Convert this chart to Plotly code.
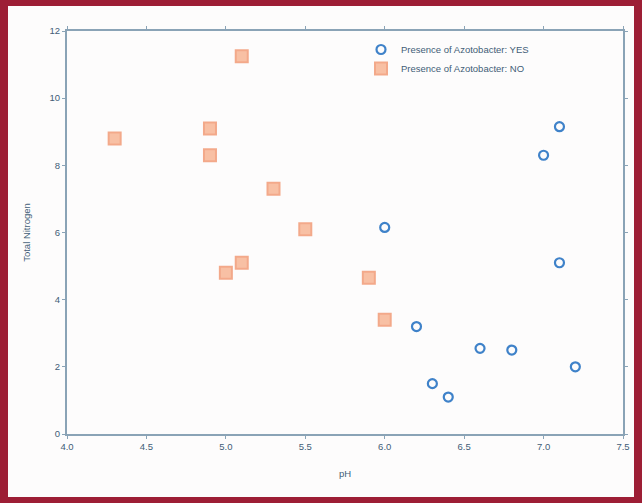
import plotly.graph_objects as go

# Data
yes_ph = [6.0, 6.2, 6.3, 6.4, 6.6, 6.8, 7.0, 7.1, 7.1, 7.2]
yes_n = [6.15, 3.2, 1.5, 1.1, 2.55, 2.5, 8.3, 9.15, 5.1, 2.0]

no_ph = [4.3, 4.9, 4.9, 5.1, 5.0, 5.1, 5.3, 5.5, 5.9, 6.0]
no_n = [8.8, 9.1, 8.3, 11.25, 4.8, 5.1, 7.3, 6.1, 4.65, 3.4]

x_ticks = [4.0, 4.5, 5.0, 5.5, 6.0, 6.5, 7.0, 7.5]
x_tick_text = ["4.0", "4.5", "5.0", "5.5", "6.0", "6.5", "7.0", "7.5"]
y_ticks = [0, 2, 4, 6, 8, 10, 12]

W, H = 642, 503
L, R, T, B = 67, 19, 31, 69
pw, ph = W - L - R, H - T - B

def px_to_paper_x(px):
    return (px - L) / pw

def py_to_paper_y(py):
    return (H - B - py) / ph

axis_color = "#8aa3b6"
text_color = "#425c77"
font_family = "Liberation Sans, Arial, sans-serif"

fig = go.Figure()
fig.add_trace(go.Scatter(
    x=yes_ph, y=yes_n, mode="markers",
    name="Presence of Azotobacter: YES",
    marker=dict(symbol="circle-open", size=9, color="#3f82c9",
                line=dict(width=2.2, color="#3f82c9")),
))
fig.add_trace(go.Scatter(
    x=no_ph, y=no_n, mode="markers",
    name="Presence of Azotobacter: NO",
    marker=dict(symbol="square", size=12, color="#f8c0a4",
                line=dict(width=2, color="#f3a98a")),
))

fig.add_shape(
    type="rect", xref="paper", yref="paper", layer="below",
    x0=px_to_paper_x(8), x1=px_to_paper_x(634),
    y0=py_to_paper_y(497), y1=py_to_paper_y(6),
    fillcolor="#fdfcfc", line=dict(width=0),
)

fig.update_layout(
    width=W, height=H,
    margin=dict(l=L, r=R, t=T, b=B),
    paper_bgcolor="#9d1e35",
    plot_bgcolor="rgba(0,0,0,0)",
    showlegend=True,
    legend=dict(
        x=px_to_paper_x(361), y=py_to_paper_y(35), xanchor="left", yanchor="top",
        bgcolor="rgba(0,0,0,0)", font=dict(size=9.5, color=text_color, family=font_family),
        tracegroupgap=0, itemwidth=30,
    ),
    font=dict(family=font_family, size=9.5, color=text_color),
)
fig.update_xaxes(
    range=[4.0, 7.5], tickvals=x_ticks, ticktext=x_tick_text,
    showgrid=False, zeroline=False, showline=True, linecolor=axis_color, linewidth=2,
    mirror="ticks", ticks="outside", ticklen=3, tickcolor=axis_color,
    title=dict(text="pH", font=dict(size=9.5, color=text_color), standoff=19),
    tickfont=dict(size=9.5, color=text_color),
)
fig.update_yaxes(
    range=[0, 12], tickvals=y_ticks,
    showgrid=False, zeroline=False, showline=True, linecolor=axis_color, linewidth=2,
    mirror="ticks", ticks="outside", ticklen=3, tickcolor=axis_color,
    title=dict(text="Total Nitrogen", font=dict(size=9.5, color=text_color), standoff=17),
    tickfont=dict(size=9.5, color=text_color),
)

fig.write_html("out.html", config={"displayModeBar": False},
               post_script="document.body.style.margin='0';")
